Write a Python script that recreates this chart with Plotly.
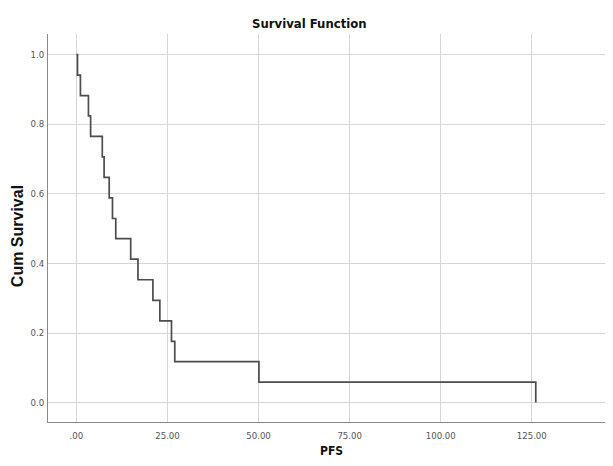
import plotly.graph_objects as go

# Kaplan-Meier step data (PFS)
pfs_time = [0, 0.3, 1.1, 3.3, 3.9, 7.1, 7.6, 9.0, 9.9, 10.8, 14.9, 16.9, 21.0, 22.9, 26.1, 27.0, 50.1, 126.1]
cum_survival = [1.0, 0.941, 0.882, 0.824, 0.765, 0.706, 0.647, 0.588, 0.529, 0.471, 0.412, 0.353,
                0.294, 0.235, 0.176, 0.118, 0.059, 0.0]

x_tick_vals = [0, 25, 50, 75, 100, 125]
x_tick_text = [".00", "25.00", "50.00", "75.00", "100.00", "125.00"]
y_tick_vals = [0.0, 0.2, 0.4, 0.6, 0.8, 1.0]
y_tick_text = ["0.0", "0.2", "0.4", "0.6", "0.8", "1.0"]

NARROW = "Liberation Sans Narrow, DejaVu Sans Condensed, Arial Narrow, sans-serif"

# the page body has an 8px margin, so the figure is placed 8px in from the top-left
OFF = 8
W, H = 597, 450
L, R, T = 40, 0, 26
B = H - (421.7 - OFF)
PW, PH = W - L - R, H - T - B

def px_x(x):  # viewport x -> paper fraction
    return (x - OFF - L) / PW

def px_y(y):  # viewport y -> paper fraction
    return (H - B - (y - OFF)) / PH

fig = go.Figure()
fig.add_trace(go.Scatter(
    x=pfs_time, y=cum_survival, mode="lines", line_shape="hv",
    line=dict(color="#4d4d4d", width=1.7), showlegend=False, hoverinfo="x+y",
))

fig.update_layout(
    width=W, height=H,
    margin=dict(l=L, r=R, t=T, b=B, pad=0),
    paper_bgcolor="white", plot_bgcolor="white",
    font=dict(family=NARROW, size=10, color="#555555"),
    xaxis=dict(
        range=[-7.8, 145.1], tickvals=x_tick_vals, ticktext=x_tick_text,
        showgrid=True, gridcolor="#d6d6d6", gridwidth=1,
        showline=True, linecolor="#8a8a8a", linewidth=1,
        zeroline=False, ticks="outside", ticklen=5, tickcolor="rgba(0,0,0,0)",
        tickfont=dict(family=NARROW, size=9.5, color="#555555"),
    ),
    yaxis=dict(
        range=[-0.0557, 1.059], tickvals=y_tick_vals, ticktext=y_tick_text,
        showgrid=True, gridcolor="#d6d6d6", gridwidth=1,
        showline=True, linecolor="#8a8a8a", linewidth=1,
        zeroline=False, ticks="outside", ticklen=1, tickcolor="rgba(0,0,0,0)",
        tickfont=dict(family=NARROW, size=9.5, color="#555555"),
    ),
    annotations=[
        dict(text="<b>Survival Function</b>", xref="paper", yref="paper",
             x=px_x(309.5), y=px_y(24),
             xanchor="center", yanchor="middle", showarrow=False,
             font=dict(family=NARROW, size=13, color="#111111")),
        dict(text="<b>PFS</b>", xref="paper", yref="paper",
             x=px_x(331), y=px_y(451),
             xanchor="center", yanchor="middle", showarrow=False,
             font=dict(family=NARROW, size=12, color="#111111")),
        dict(text="<b>Cum Survival</b>", xref="paper", yref="paper",
             x=px_x(17), y=px_y(236),
             xanchor="center", yanchor="middle", showarrow=False, textangle=-90,
             font=dict(family="Liberation Sans, Arial, sans-serif", size=16, color="#111111")),
    ],
)

fig.write_html("out.html")
